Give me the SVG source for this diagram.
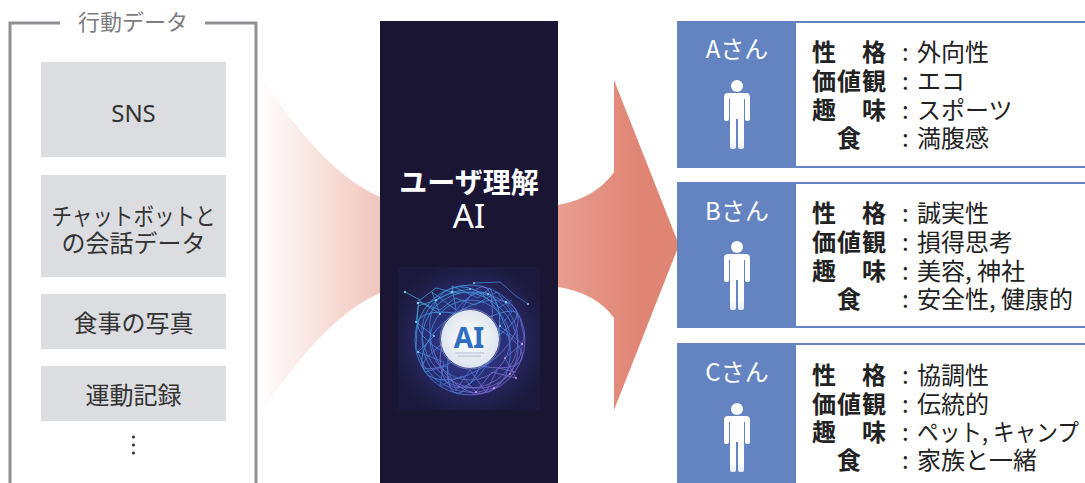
<svg xmlns="http://www.w3.org/2000/svg" width="1085" height="483" viewBox="0 0 1085 483">
  <style>
    .jp { font-family: "Noto Sans CJK JP", "Noto Sans", sans-serif; }
    .frame { fill: none; stroke: #8f9096; stroke-width: 3; }
    .src { fill: #dcdde0; }
    .srcText { font-size: 24px; fill: #333; text-anchor: middle; }
    .card { fill: #fff; stroke: #6483c0; stroke-width: 2; }
    .side { fill: #6384c0; }
    .who { font-size: 24px; fill: #fff; text-anchor: middle; }
    .lbl { font-size: 24px; fill: #222; font-weight: 700; }
    .val { font-size: 24px; fill: #222; }
    .mesh { fill: none; stroke: url(#meshGrad); stroke-width: 0.8; opacity: 0.85; }
  </style>
  <defs>
    <linearGradient id="funnelGrad" x1="258" y1="0" x2="380" y2="0" gradientUnits="userSpaceOnUse">
      <stop offset="0" stop-color="#ffffff"/>
      <stop offset="1" stop-color="#f1c5bb"/>
    </linearGradient>
    <linearGradient id="arrowGrad" x1="558" y1="0" x2="640" y2="0" gradientUnits="userSpaceOnUse">
      <stop offset="0" stop-color="#e79e90"/>
      <stop offset="1" stop-color="#e08474"/>
    </linearGradient>
    <radialGradient id="glow" cx="470" cy="340" r="80" gradientUnits="userSpaceOnUse">
      <stop offset="0" stop-color="#3c3f96"/>
      <stop offset="0.6" stop-color="#262660"/>
      <stop offset="1" stop-color="#1c1a3c"/>
    </radialGradient>
    <linearGradient id="meshGrad" x1="415" y1="285" x2="525" y2="395" gradientUnits="userSpaceOnUse">
      <stop offset="0" stop-color="#45c0ee"/>
      <stop offset="0.55" stop-color="#4a7fe0"/>
      <stop offset="1" stop-color="#c26ad6"/>
    </linearGradient>
    <radialGradient id="core" cx="470" cy="338" r="30" gradientUnits="userSpaceOnUse">
      <stop offset="0" stop-color="#ffffff"/>
      <stop offset="1" stop-color="#dde4ee"/>
    </radialGradient>
    <linearGradient id="personFade" x1="0" y1="0" x2="0" y2="1">
      <stop offset="0.8" stop-color="#ffffff"/>
      <stop offset="1" stop-color="#e6ecf8"/>
    </linearGradient>
    <g id="person" fill="url(#personFade)">
      <circle cx="0" cy="0" r="6"/>
      <path d="M-9 7h18q4 0 4 4v22q0 2-2 2h-1q-2 0-2-2v-20h-1v48q0 2-2 2h-2q-2 0-2-2v-28h-2v28q0 2-2 2h-2q-2 0-2-2v-48h-1v20q0 2-2 2h-1q-2 0-2-2v-22q0-4 4-4z"/>
    </g>
  </defs>

  <rect width="1085" height="483" fill="#ffffff"/>

  <!-- flow shapes: inputs narrowing into the AI, then the arrow out to users -->
  <g id="connectors">
    <path d="M258 73 C290 120 330 175 380 197 L380 293 C330 315 290 370 258 417 Z" fill="url(#funnelGrad)"/>
    <path d="M558 205 Q596 198 614 172 L614 80 L679 245 L614 410 L614 318 Q596 293 558 287 Z" fill="url(#arrowGrad)"/>
  </g>

  <!-- behaviour data sources -->
  <g id="behaviour-data" class="jp">
    <path class="frame" d="M60 23H10V490M205 23H256V490"/>
    <text x="133" y="30" font-size="22" fill="#7c7c82" text-anchor="middle">行動データ</text>
    <g id="src-sns">
      <rect class="src" x="41" y="62" width="185" height="95"/>
      <text class="srcText" x="133.5" y="122" font-size="26" font-family="Noto Sans, sans-serif">SNS</text>
    </g>
    <g id="src-chat">
      <rect class="src" x="41" y="175" width="185" height="102"/>
      <text class="srcText"><tspan x="133.5" y="225" textLength="164" lengthAdjust="spacingAndGlyphs">チャットボットと</tspan><tspan x="133.5" y="252">の会話データ</tspan></text>
    </g>
    <g id="src-meal">
      <rect class="src" x="41" y="294" width="185" height="55"/>
      <text class="srcText" x="133.5" y="332">食事の写真</text>
    </g>
    <g id="src-exercise">
      <rect class="src" x="41" y="366" width="185" height="55"/>
      <text class="srcText" x="133.5" y="404">運動記録</text>
    </g>
    <g id="src-more" fill="#333">
      <circle cx="133.5" cy="437" r="1.6"/>
      <circle cx="133.5" cy="445" r="1.6"/>
      <circle cx="133.5" cy="453" r="1.6"/>
    </g>
  </g>

  <!-- user understanding AI -->
  <g id="user-ai">
    <rect x="380" y="21" width="178" height="470" fill="#1a1533"/>
    <text class="jp" fill="#fff" text-anchor="middle"><tspan x="469" y="193" font-size="28" font-weight="700">ユーザ理解</tspan><tspan x="469" y="228" font-family="Noto Sans, sans-serif" font-size="33">AI</tspan></text>
    <g id="ai-emblem">
      <rect x="398" y="267" width="142" height="143" fill="url(#glow)"/>
      <circle cx="470" cy="340" r="56" fill="#2b3a8c" opacity="0.35"/>
      <g class="mesh">
        <circle cx="470" cy="340" r="55"/>
        <circle cx="470" cy="340" r="48"/>
        <circle cx="470" cy="340" r="40"/>
        <ellipse cx="470" cy="340" rx="55" ry="22" transform="rotate(20 470 340)"/>
        <ellipse cx="470" cy="340" rx="55" ry="30" transform="rotate(-35 470 340)"/>
        <ellipse cx="470" cy="340" rx="55" ry="38" transform="rotate(70 470 340)"/>
        <ellipse cx="470" cy="340" rx="55" ry="18" transform="rotate(-75 470 340)"/>
        <ellipse cx="470" cy="340" rx="52" ry="44" transform="rotate(45 470 340)"/>
        <ellipse cx="470" cy="340" rx="50" ry="26" transform="rotate(110 470 340)"/>
        <ellipse cx="470" cy="340" rx="54" ry="12" transform="rotate(150 470 340)"/>
        <polyline points="418,306 436,300 452,292 470,289 488,294 506,302 520,318 524,336 520,356 510,374 494,388 474,393 454,390 436,380 424,366 416,348 418,306"/>
        <polyline points="419,302 440,310 455,298 475,305 497,292 512,312 500,326 522,344 505,358 516,378 492,372 476,392 462,376 440,386 444,362 418,352 434,336 416,322 419,302"/>
        <polyline points="418,300 440,314 432,292 456,310 452,286 478,298 490,288 498,308 512,300"/>
        <polyline points="425,372 446,366 456,390 470,370 486,392 498,368 516,372"/>
        <polyline points="405,292 420,300 436,288 460,294"/>
        <polyline points="474,283 500,282 516,296 528,304"/>
      </g>
      <g fill="#8fd6ff" opacity="0.9">
        <circle cx="418" cy="303" r="1.3"/><circle cx="436" cy="300" r="1.1"/><circle cx="452" cy="292" r="1.2"/>
        <circle cx="470" cy="289" r="1"/><circle cx="488" cy="294" r="1.1"/><circle cx="506" cy="302" r="1.2"/>
        <circle cx="405" cy="292" r="1.2"/><circle cx="440" cy="314" r="1"/><circle cx="416" cy="322" r="1.1"/>
        <circle cx="434" cy="336" r="1"/><circle cx="418" cy="352" r="1.1"/><circle cx="500" cy="326" r="1"/>
        <circle cx="528" cy="304" r="1.1"/><circle cx="474" cy="283" r="1"/>
      </g>
      <g fill="#d99af0" opacity="0.9">
        <circle cx="522" cy="344" r="1.2"/><circle cx="516" cy="378" r="1.1"/><circle cx="494" cy="388" r="1.2"/>
        <circle cx="476" cy="392" r="1"/><circle cx="505" cy="358" r="1"/><circle cx="510" cy="374" r="1.1"/>
      </g>
      <circle cx="470" cy="339" r="29" fill="url(#core)"/>
      <circle cx="470" cy="339" r="30" fill="none" stroke="#9fb8dc" stroke-width="0.8" opacity="0.7"/>
      <text x="469" y="348" font-family="Noto Sans, sans-serif" font-size="28" font-weight="700" fill="#2f6fc2" text-anchor="middle">AI</text>
      <g stroke="#9aa8bd" stroke-width="0.7">
        <line x1="455" y1="353" x2="484" y2="353"/>
        <line x1="458" y1="356" x2="481" y2="356"/>
      </g>
    </g>
  </g>

  <!-- user profile A -->
  <g id="user-a" class="jp">
    <rect class="card" x="678" y="22" width="420" height="145"/>
    <rect class="side" x="678" y="22" width="118" height="145"/>
    <text class="who" x="737" y="58">Aさん</text>
    <use href="#person" x="737" y="86"/>
    <text class="lbl"><tspan x="812 862" y="61">性格</tspan><tspan x="812 837 862" y="90">価値観</tspan><tspan x="812 862" y="119">趣味</tspan><tspan x="837" y="147">食</tspan></text>
    <text class="val"><tspan x="902" y="61">:</tspan><tspan x="917">外向性</tspan><tspan x="902" y="90">:</tspan><tspan x="917">エコ</tspan><tspan x="902" y="119">:</tspan><tspan x="917">スポーツ</tspan><tspan x="902" y="147">:</tspan><tspan x="917">満腹感</tspan></text>
  </g>

  <!-- user profile B -->
  <g id="user-b" class="jp">
    <rect class="card" x="678" y="183" width="420" height="144"/>
    <rect class="side" x="678" y="183" width="118" height="144"/>
    <text class="who" x="737" y="220">Bさん</text>
    <use href="#person" x="737" y="247"/>
    <text class="lbl"><tspan x="812 862" y="222">性格</tspan><tspan x="812 837 862" y="251">価値観</tspan><tspan x="812 862" y="280">趣味</tspan><tspan x="837" y="308">食</tspan></text>
    <text class="val"><tspan x="902" y="222">:</tspan><tspan x="917">誠実性</tspan><tspan x="902" y="251">:</tspan><tspan x="917">損得思考</tspan><tspan x="902" y="280">:</tspan><tspan x="917">美容, 神社</tspan><tspan x="902" y="308">:</tspan><tspan x="917" textLength="156" lengthAdjust="spacingAndGlyphs">安全性, 健康的</tspan></text>
  </g>

  <!-- user profile C -->
  <g id="user-c" class="jp">
    <rect class="card" x="678" y="344" width="420" height="160"/>
    <rect class="side" x="678" y="344" width="118" height="160"/>
    <text class="who" x="737" y="381">Cさん</text>
    <use href="#person" x="737" y="409"/>
    <text class="lbl"><tspan x="812 862" y="384">性格</tspan><tspan x="812 837 862" y="413">価値観</tspan><tspan x="812 862" y="441">趣味</tspan><tspan x="837" y="469">食</tspan></text>
    <text class="val"><tspan x="902" y="384">:</tspan><tspan x="917">協調性</tspan><tspan x="902" y="413">:</tspan><tspan x="917">伝統的</tspan><tspan x="902" y="441">:</tspan><tspan x="917" textLength="162" lengthAdjust="spacingAndGlyphs">ペット, キャンプ</tspan><tspan x="902" y="469">:</tspan><tspan x="917">家族と一緒</tspan></text>
  </g>
</svg>
